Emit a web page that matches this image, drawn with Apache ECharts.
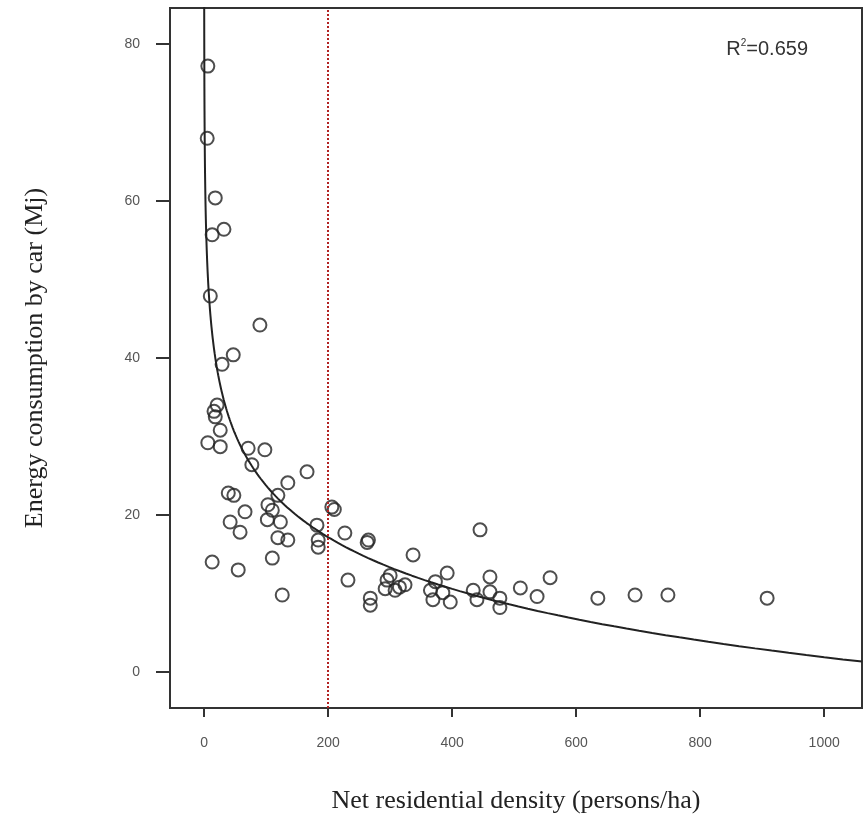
<!DOCTYPE html>
<html>
<head>
<meta charset="utf-8">
<script src="https://cdn.jsdelivr.net/npm/echarts@6/dist/echarts.min.js"></script>
<style>
  html, body { margin: 0; padding: 0; background: #fff; }
  #chart { width: 868px; height: 822px; }
</style>
</head>
<body>
<div id="chart"></div>
<script>
// density (persons/ha) for each observation
var density = [6, 5, 18, 32, 13, 10, 90, 47, 29, 21, 16, 18, 26, 6, 26, 71, 98, 77, 166, 135,
  39, 48, 119, 103, 110, 66, 206, 210, 102, 123, 42, 182, 58, 227, 119, 135, 184, 184, 265, 263,
  110, 13, 55, 337, 445, 232, 126, 268, 268, 295, 308, 324, 292, 300, 315, 365, 373, 392, 385, 369,
  397, 461, 434, 461, 440, 477, 477, 510, 537, 558, 635, 695, 748, 908];
// energy consumption by car (Mj), same order
var energy = [77.2, 68, 60.4, 56.4, 55.7, 47.9, 44.2, 40.4, 39.2, 34, 33.2, 32.5, 30.8, 29.2, 28.7, 28.5, 28.3, 26.4, 25.5, 24.1,
  22.8, 22.5, 22.5, 21.3, 20.6, 20.4, 21, 20.7, 19.4, 19.1, 19.1, 18.7, 17.8, 17.7, 17.1, 16.8, 16.8, 15.9, 16.8, 16.5,
  14.5, 14, 13, 14.9, 18.1, 11.7, 9.8, 9.4, 8.5, 11.7, 10.4, 11.1, 10.6, 12.3, 10.8, 10.4, 11.5, 12.6, 10.1, 9.2,
  8.9, 12.1, 10.4, 10.2, 9.2, 9.4, 8.2, 10.7, 9.6, 12, 9.4, 9.8, 9.8, 9.4];

var xTicks = [0, 200, 400, 600, 800, 1000];
var yTicks = [0, 20, 40, 60, 80];

// logarithmic fit  y = a - b ln(x), R^2 = 0.659
var fitA = 67.5;
var fitB = 9.5;
var threshold = 200;

var points = density.map(function (d, i) { return [d, energy[i]]; });

// sample the fitted curve (log spaced so the steep part is smooth)
var curve = [];
for (var i = 0; i <= 300; i++) {
  var x = Math.exp(Math.log(0.15) + (Math.log(1061) - Math.log(0.15)) * i / 300);
  curve.push([x, fitA - fitB * Math.log(x)]);
}

var chart = echarts.init(document.getElementById('chart'));
chart.setOption({
  animation: false,
  grid: {
    left: 170, right: 6, top: 8, bottom: 114,
    show: true, borderColor: '#333', borderWidth: 2
  },
  xAxis: {
    type: 'value', min: -55, max: 1061,
    name: 'Net residential density (persons/ha)',
    nameLocation: 'middle', nameGap: 80,
    nameTextStyle: { fontFamily: 'Liberation Serif', fontSize: 26, color: '#222' },
    splitLine: { show: false },
    axisLine: { show: true, onZero: false, lineStyle: { color: '#333', width: 2 } },
    axisTick: { show: true, length: 9, customValues: xTicks, lineStyle: { color: '#333', width: 2 } },
    axisLabel: {
      customValues: xTicks, margin: 28, fontFamily: 'Liberation Sans', fontSize: 14, color: '#555',
      formatter: function (v) { return String(v); }
    }
  },
  yAxis: {
    type: 'value', min: -4.6, max: 84.6,
    name: 'Energy consumption by car (Mj)',
    nameLocation: 'middle', nameGap: 122,
    nameTextStyle: { fontFamily: 'Liberation Serif', fontSize: 26, color: '#222' },
    splitLine: { show: false },
    axisLine: { show: true, onZero: false, lineStyle: { color: '#333', width: 2 } },
    axisTick: { show: true, length: 14, customValues: yTicks, lineStyle: { color: '#333', width: 2 } },
    axisLabel: { customValues: yTicks, margin: 30, fontFamily: 'Liberation Sans', fontSize: 14, color: '#555' }
  },
  graphic: [{
    type: 'text', right: 60, top: 38,
    style: {
      text: '{b|R}{s|2}{b|=0.659}',
      rich: {
        b: { fontFamily: 'Liberation Sans', fontSize: 20, fill: '#333' },
        s: { fontFamily: 'Liberation Sans', fontSize: 10, fill: '#333', verticalAlign: 'top', padding: [0, 0, 12, 0] }
      }
    }
  }],
  series: [{
    type: 'scatter',
    data: points,
    symbol: 'circle',
    symbolSize: 13,
    itemStyle: { color: 'rgba(255,255,255,0)', borderColor: '#222', borderWidth: 2 },
    z: 3
  }, {
    type: 'line',
    data: curve,
    showSymbol: false,
    clip: true,
    lineStyle: { color: '#222', width: 2 },
    z: 4,
    markLine: {
      silent: true,
      symbol: 'none',
      label: { show: false },
      lineStyle: { color: '#b22222', type: 'dotted', width: 2 },
      data: [{ xAxis: threshold }]
    }
  }]
});
</script>
</body>
</html>
